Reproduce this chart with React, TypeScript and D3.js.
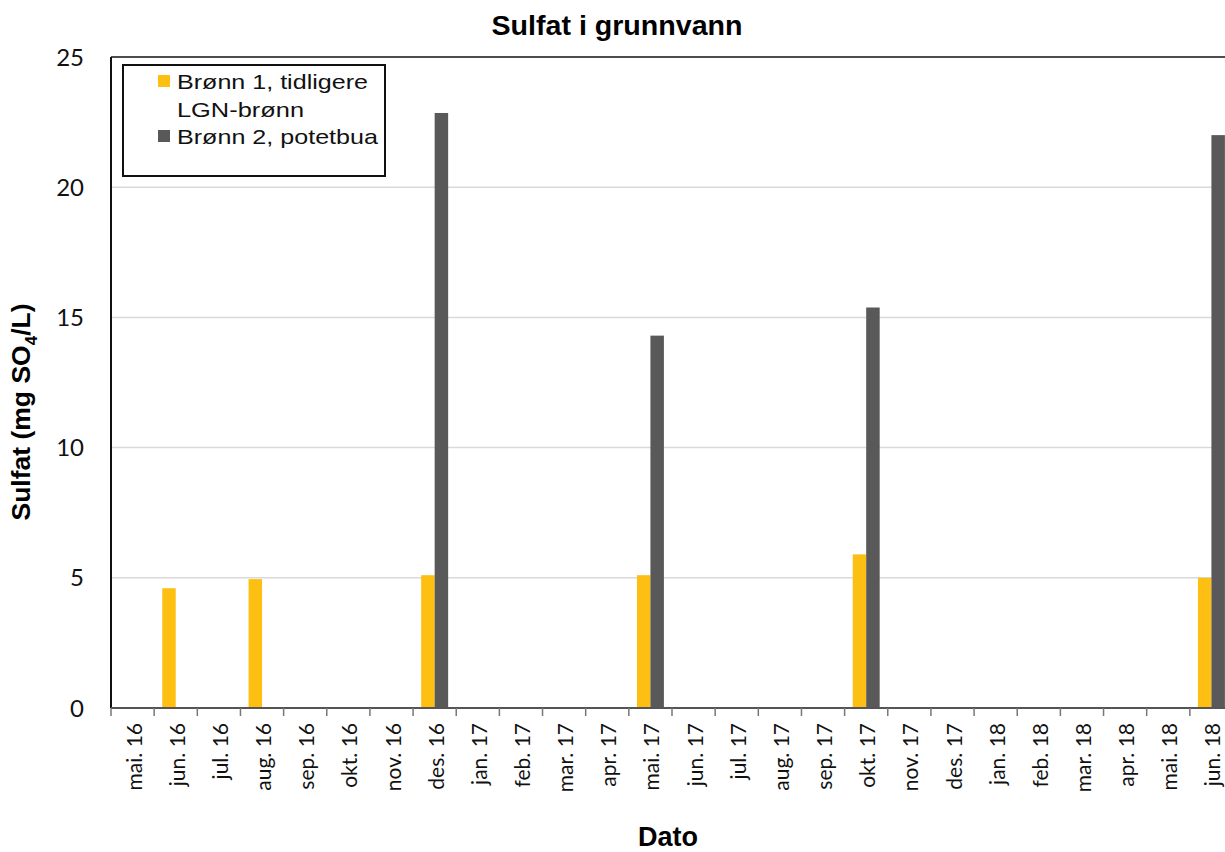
import React from "react";
import * as d3 from "d3";

const months = [
  "mai. 16", "jun. 16", "jul. 16", "aug. 16", "sep. 16", "okt. 16", "nov. 16", "des. 16",
  "jan. 17", "feb. 17", "mar. 17", "apr. 17", "mai. 17", "jun. 17", "jul. 17", "aug. 17",
  "sep. 17", "okt. 17", "nov. 17", "des. 17", "jan. 18", "feb. 18", "mar. 18", "apr. 18",
  "mai. 18", "jun. 18",
];
const well1: (number | null)[] = [
  null, 4.6, null, 4.95, null, null, null, 5.1,
  null, null, null, null, 5.1, null, null, null,
  null, 5.9, null, null, null, null, null, null,
  null, 5.0,
];
const well2: (number | null)[] = [
  null, null, null, null, null, null, null, 22.85,
  null, null, null, null, 14.3, null, null, null,
  null, 15.38, null, null, null, null, null, null,
  null, 22.0,
];
const seriesNames = ["Brønn 1, tidligere", "Brønn 2, potetbua"];
const seriesColors = ["#FDBF12", "#595959"];
const yTicks = [0, 5, 10, 15, 20, 25];

export default function App() {
  const W = 1225, H = 852;
  const left = 111, right = 1233, top = 57, bottom = 708;
  const x = d3.scaleBand<string>().domain(months).range([left, right]).paddingInner(0).paddingOuter(0);
  const x1 = d3.scaleBand<string>().domain(["a", "b"]).range([0, x.bandwidth()]).paddingInner(0).paddingOuter(0.6);
  const y = d3.scaleLinear().domain([0, 25]).range([bottom, top]);
  const series = [well1, well2];
  const keys = ["a", "b"];
  const font = "'Liberation Sans', Arial, sans-serif";
  const tickFont = "Lato, 'Open Sans', sans-serif";

  return (
    <svg width={W} height={H} style={{ position: "absolute", left: 0, top: 0, background: "#fff" }}>
      <rect x={0} y={0} width={W} height={H} fill="#fff" />
      <text x={617} y={35} textAnchor="middle" fontFamily={font} fontWeight="bold" fontSize={28}
        textLength={251} lengthAdjust="spacingAndGlyphs">
        Sulfat i grunnvann
      </text>
      {yTicks.map((t) => (
        <g key={t}>
          {t > 0 && t < 25 && (
            <line x1={left} x2={right} y1={y(t)} y2={y(t)} stroke="#d9d9d9" strokeWidth={1.5} />
          )}
          <text x={84} y={y(t) + 8.5} textAnchor="end" fontFamily={tickFont} fontSize={24} fill="#111">
            {t}
          </text>
        </g>
      ))}
      {series.map((vals, si) =>
        vals.map((v, i) =>
          v == null ? null : (
            <rect
              key={`${si}-${i}`}
              x={(x(months[i]) as number) + (x1(keys[si]) as number)}
              y={y(v)}
              width={x1.bandwidth()}
              height={y(0) - y(v)}
              fill={seriesColors[si]}
            />
          )
        )
      )}
      {/* frame */}
      <line x1={left} x2={right} y1={top} y2={top} stroke="#111" strokeWidth={1.5} />
      <line x1={left} x2={left} y1={top} y2={bottom} stroke="#111" strokeWidth={2} />
      <line x1={left} x2={right} y1={bottom} y2={bottom} stroke="#555" strokeWidth={2} />
      {months.map((m, i) => (
        <line
          key={"t" + i}
          x1={(x(m) as number)}
          x2={(x(m) as number)}
          y1={bottom}
          y2={bottom + 8}
          stroke="#777"
          strokeWidth={1.5}
        />
      ))}
      {months.map((m) => {
        const cx = (x(m) as number) + x.bandwidth() / 2;
        return (
          <text
            key={m}
            transform={`translate(${cx + 9},${723}) rotate(-90)`}
            textAnchor="end"
            fontFamily={tickFont}
            fontSize={21}
            fill="#111"
          >
            {m}
          </text>
        );
      })}
      <text x={668} y={846} textAnchor="middle" fontFamily={font} fontWeight="bold" fontSize={27}>
        Dato
      </text>
      <text
        transform={`translate(30,412) rotate(-90)`}
        textAnchor="middle"
        fontFamily={font}
        fontWeight="bold"
        fontSize={26.5}
      >
        Sulfat (mg SO
        <tspan fontSize={17} dy={7}>4</tspan>
        <tspan dy={-7}>/L)</tspan>
      </text>
      {/* legend */}
      <rect x={123} y={65} width={262} height={111} fill="#fff" stroke="#111" strokeWidth={2} />
      <rect x={158} y={75} width={12} height={12} fill={seriesColors[0]} />
      <text x={177} y={89} fontFamily={font} fontSize={21} fill="#111" textLength={191} lengthAdjust="spacingAndGlyphs">{seriesNames[0]}</text>
      <text x={177} y={117} fontFamily={font} fontSize={21} fill="#111" textLength={127} lengthAdjust="spacingAndGlyphs">LGN-brønn</text>
      <rect x={158} y={130} width={12} height={12} fill={seriesColors[1]} />
      <text x={177} y={144} fontFamily={font} fontSize={21} fill="#111" textLength={201} lengthAdjust="spacingAndGlyphs">{seriesNames[1]}</text>
    </svg>
  );
}
